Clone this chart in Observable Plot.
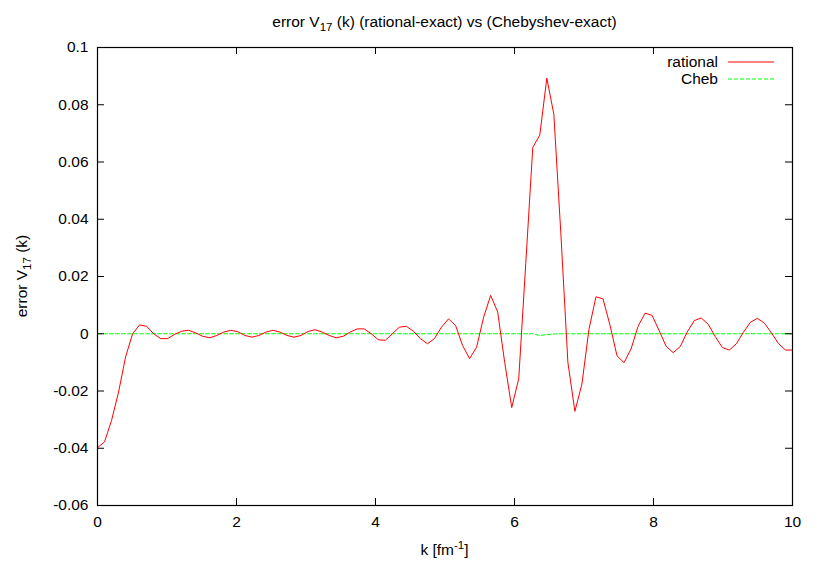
<!DOCTYPE html>
<html>
<head>
<meta charset="utf-8">
<script src="https://cdn.jsdelivr.net/npm/d3@7"></script>
<script src="https://cdn.jsdelivr.net/npm/@observablehq/plot@0.6"></script>
<style>
  html, body { margin: 0; padding: 0; background: #fff; }
  #chart svg { display: block; }
</style>
</head>
<body>
<div id="chart"></div>
<script>
// k sample points [fm^-1]
const kValues = [
  0, 0.101, 0.202, 0.303, 0.404, 0.505, 0.606, 0.707, 0.808, 0.909,
  1.010, 1.111, 1.212, 1.313, 1.414, 1.515, 1.616, 1.717, 1.818, 1.919,
  2.020, 2.121, 2.222, 2.323, 2.424, 2.525, 2.626, 2.727, 2.828, 2.929,
  3.030, 3.131, 3.232, 3.333, 3.434, 3.535, 3.636, 3.737, 3.838, 3.939,
  4.040, 4.141, 4.242, 4.343, 4.444, 4.545, 4.646, 4.747, 4.848, 4.949,
  5.051, 5.152, 5.253, 5.354, 5.455, 5.556, 5.657, 5.758, 5.859, 5.960,
  6.061, 6.162, 6.263, 6.364, 6.465, 6.566, 6.667, 6.768, 6.869, 6.970,
  7.071, 7.172, 7.273, 7.374, 7.475, 7.576, 7.677, 7.778, 7.879, 7.980,
  8.081, 8.182, 8.283, 8.384, 8.485, 8.586, 8.687, 8.788, 8.889, 8.990,
  9.091, 9.192, 9.293, 9.394, 9.495, 9.596, 9.697, 9.798, 9.899, 10
];

// rational - exact
const rationalErr = [
  -0.0398, -0.0378, -0.0303, -0.0204, -0.0081, 0.0000, 0.0031, 0.0026, 0.0000, -0.0017,
  -0.0017, -0.0002, 0.0009, 0.0012, 0.0003, -0.0009, -0.0014, -0.0006, 0.0006, 0.0012,
  0.0007, -0.0006, -0.0012, -0.0006, 0.0006, 0.0012, 0.0006, -0.0006, -0.0012, -0.0006,
  0.0008, 0.0014, 0.0006, -0.0006, -0.0014, -0.0009, 0.0006, 0.0017, 0.0017, 0.0000,
  -0.0021, -0.0023, 0.0000, 0.0023, 0.0026, 0.0009, -0.0017, -0.0035, -0.0017, 0.0023,
  0.0052, 0.0029, -0.0041, -0.0087, -0.0047, 0.0058, 0.0134, 0.0076, -0.0100, -0.0258,
  -0.0157, 0.0245, 0.0651, 0.0694, 0.0893, 0.0767, 0.0350, -0.0100, -0.0271, -0.0176,
  0.0015, 0.0129, 0.0122, 0.0030, -0.0077, -0.0101, -0.0053, 0.0026, 0.0072, 0.0064,
  0.0011, -0.0044, -0.0066, -0.0045, 0.0006, 0.0046, 0.0055, 0.0033, -0.0010, -0.0048,
  -0.0057, -0.0035, 0.0005, 0.0040, 0.0054, 0.0037, 0.0003, -0.0034, -0.0057, -0.0057
];

// Chebyshev - exact
const chebErr = [
  0, 0, 0, 0, 0, 0, 0, 0, 0, 0,
  0, 0, 0, 0, 0, 0, 0, 0, 0, 0,
  0, 0, 0, 0, 0, 0, 0, 0, 0, 0,
  0, 0, 0, 0, 0, 0, 0, 0, 0, 0,
  0, 0, 0, 0, 0, 0, 0, 0, 0, 0,
  0, 0, 0, 0, 0, 0, 0, 0, 0, 0,
  0, 0, 0, -0.0006, -0.0003, -0.0001, 0, 0, 0, 0,
  0, 0, 0, 0, 0, 0, 0, 0, 0, 0,
  0, 0, 0, 0, 0, 0, 0, 0, 0, 0,
  0, 0, 0, 0, 0, 0, 0, 0, 0, 0
];

const xTicks = [0, 2, 4, 6, 8, 10];
const yTicks = [-0.06, -0.04, -0.02, 0, 0.02, 0.04, 0.06, 0.08, 0.1];
const seriesNames = ["rational", "Cheb"];

const data = kValues.map((k, i) => ({k, rational: rationalErr[i], cheb: chebErr[i]}));

const W = 817, H = 572;
const mL = 97, mR = 25, mT = 47, mB = 67;
const plotW = W - mL - mR, plotH = H - mT - mB;
const tickLen = 7;
const FONT = "'Liberation Sans', Arial, Helvetica, sans-serif";
const FS = 15.5;
const FS_SMALL = 11.5;

const fmtY = d => String(Math.round(d * 100) / 100);

const chart = Plot.plot({
  width: W,
  height: H,
  marginLeft: mL,
  marginRight: mR,
  marginTop: mT,
  marginBottom: mB,
  style: {fontFamily: FONT, fontSize: FS + "px", background: "#fff", color: "#000"},
  x: {domain: [0, 10]},
  y: {domain: [-0.06, 0.1]},
  marks: [
    Plot.line(data, {x: "k", y: "cheb", stroke: "#00ff00", strokeWidth: 1, strokeDasharray: "4,2"}),
    Plot.line(data, {x: "k", y: "rational", stroke: "#ff0000", strokeWidth: 1}),
    // inward ticks on all four sides
    Plot.tickX(xTicks, {x: d => d, stroke: "#000", insetTop: plotH - tickLen}),
    Plot.tickX(xTicks, {x: d => d, stroke: "#000", insetBottom: plotH - tickLen}),
    Plot.tickY(yTicks, {y: d => d, stroke: "#000", insetRight: plotW - tickLen}),
    Plot.tickY(yTicks, {y: d => d, stroke: "#000", insetLeft: plotW - tickLen}),
    Plot.axisX({ticks: xTicks, tickSize: 0, tickPadding: 10, label: null, tickFormat: d => String(d), fontSize: FS}),
    Plot.axisY({ticks: yTicks, tickSize: 0, tickPadding: 9, label: null, tickFormat: fmtY, fontSize: FS}),
    Plot.frame({stroke: "#000", strokeWidth: 1.2})
  ]
});

document.getElementById("chart").appendChild(chart);

const svg = d3.select(chart);
const cx = mL + plotW / 2;
const cy = mT + plotH / 2;

// parts: strings (normal) or {t, dy} (smaller, shifted); the shift is undone on the next part
function addText(g, parts, attrs) {
  const t = g.append("text")
    .attr("font-family", FONT)
    .attr("font-size", FS)
    .attr("fill", "#000");
  for (const [k, v] of Object.entries(attrs)) t.attr(k, v);
  let pending = 0;
  for (const p of parts) {
    if (typeof p === "string") {
      const s = t.append("tspan").text(p);
      if (pending) { s.attr("dy", -pending); pending = 0; }
    } else {
      t.append("tspan").attr("font-size", FS_SMALL).attr("dy", p.dy).text(p.t);
      pending = p.dy;
    }
  }
  return t;
}

// title
addText(svg, ["error V", {t: "17", dy: 4}, " (k) (rational-exact) vs (Chebyshev-exact)"],
  {x: cx, y: 27, "text-anchor": "middle"});

// y label
addText(svg, ["error V", {t: "17", dy: 4}, " (k)"],
  {"text-anchor": "middle", transform: `translate(27,${cy}) rotate(-90)`});

// x label
addText(svg, ["k [fm", {t: "-1", dy: -6}, "]"],
  {x: cx, y: 555, "text-anchor": "middle"});

// legend
const legend = svg.append("g");
const legendRows = [
  {name: seriesNames[0], color: "#ff0000", dash: null, y: 62},
  {name: seriesNames[1], color: "#00ff00", dash: "4,2", y: 79}
];
for (const r of legendRows) {
  legend.append("text")
    .attr("x", 718).attr("y", r.y + 5)
    .attr("text-anchor", "end")
    .attr("font-family", FONT).attr("font-size", FS)
    .attr("fill", "#000")
    .text(r.name);
  legend.append("line")
    .attr("x1", 728).attr("x2", 774)
    .attr("y1", r.y).attr("y2", r.y)
    .attr("stroke", r.color).attr("stroke-width", 1)
    .attr("stroke-dasharray", r.dash);
}
</script>
</body>
</html>
